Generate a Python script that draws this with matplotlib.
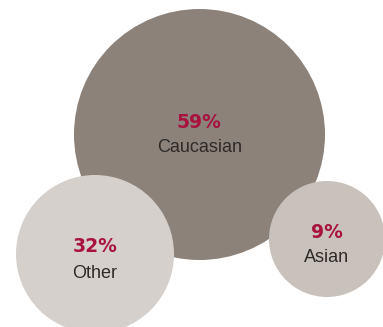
import matplotlib
matplotlib.use("Agg")
import matplotlib.pyplot as plt
from matplotlib.patches import Circle

# Data
categories = ["Caucasian", "Other", "Asian"]
percents = [59, 32, 9]

# Layout (pixel space, y down)
centers = [(199.5, 134.5), (95, 254), (327, 239)]
radii = [125.5, 79, 58]
fills = ["#8C8279", "#D5D0CC", "#C9C2BC"]
pct_offsets = [-12.5, -7, -7]
lab_offsets = [12.5, 19, 19]

fig = plt.figure(figsize=(3.83, 3.27), dpi=100)
ax = fig.add_axes([0, 0, 1, 1])
ax.set_xlim(0, 383)
ax.set_ylim(327, 0)
ax.set_aspect("equal")
ax.axis("off")

for cat, p, (cx, cy), r, fc, po, lo in zip(categories, percents, centers, radii, fills, pct_offsets, lab_offsets):
    ax.add_patch(Circle((cx, cy), r, facecolor=fc, edgecolor="none"))
    ax.text(cx, cy + po, f"{p}%", ha="center", va="center", fontsize=13.5,
            fontweight="bold", color="#A8123D", family="DejaVu Sans")
    ax.text(cx, cy + lo, cat, ha="center", va="center", fontsize=13,
            color="#2E2A28", family="Liberation Sans")

fig.savefig("out.png", dpi=100)
